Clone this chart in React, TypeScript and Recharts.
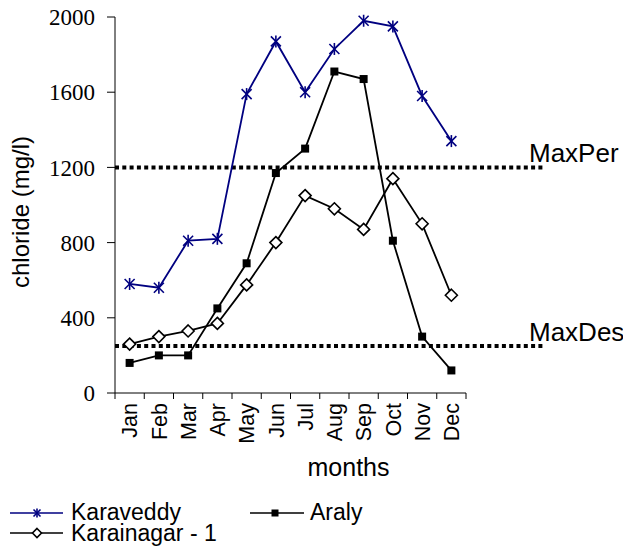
import { LineChart, Line, XAxis, YAxis, ReferenceLine } from 'recharts';

const months = ['Jan', 'Feb', 'Mar', 'Apr', 'May', 'Jun', 'Jul', 'Aug', 'Sep', 'Oct', 'Nov', 'Dec'];
const karaveddy = [580, 560, 810, 820, 1590, 1870, 1600, 1830, 1980, 1950, 1580, 1340];
const araly = [160, 200, 200, 450, 690, 1170, 1300, 1710, 1670, 810, 300, 120];
const karainagar = [260, 300, 330, 370, 575, 800, 1050, 980, 870, 1140, 900, 520];
const yTicks = [0, 400, 800, 1200, 1600, 2000];
const maxPermissible = 1200;
const maxDesirable = 250;

const data = months.map((m, i) => ({
  month: m,
  karaveddy: karaveddy[i],
  araly: araly[i],
  karainagar: karainagar[i],
}));

const NAVY = '#000080';
const SANS = 'Arial, "Liberation Sans", sans-serif';
const SERIF = '"Times New Roman", "Liberation Serif", serif';

const W = 623;
const H = 548;
const PLOT_LEFT = 115;
const PLOT_RIGHT = 466;
const PLOT_TOP = 17;
const PLOT_BOTTOM = 393;
const BAND = (PLOT_RIGHT - PLOT_LEFT) / months.length;

// excel-style: tick marks sit between categories, labels rotated
const MonthTick = (props: any) => {
  const { x, y, payload, index } = props;
  const top = y - 8;
  return (
    <g>
      <line x1={x - BAND / 2} y1={top} x2={x - BAND / 2} y2={top + 6} stroke="#000" />
      {index === months.length - 1 && (
        <line x1={x + BAND / 2} y1={top} x2={x + BAND / 2} y2={top + 6} stroke="#000" />
      )}
      <text
        x={x}
        y={y + 2}
        transform={`rotate(-90 ${x} ${y + 2})`}
        textAnchor="end"
        dy="0.36em"
        fontFamily={SANS}
        fontSize={21.5}
        fill="#000"
      >
        {payload.value}
      </text>
    </g>
  );
};

const Asterisk = ({ cx, cy, r = 5, stroke = NAVY, sw = 1.6 }: any) => (
  <g stroke={stroke} strokeWidth={sw}>
    <line x1={cx - r} y1={cy - r} x2={cx + r} y2={cy + r} />
    <line x1={cx - r} y1={cy + r} x2={cx + r} y2={cy - r} />
    <line x1={cx} y1={cy - r - 1} x2={cx} y2={cy + r + 1} />
  </g>
);

const Square = ({ cx, cy, r = 4 }: any) => (
  <rect x={cx - r} y={cy - r} width={r * 2} height={r * 2} fill="#000" />
);

const Diamond = ({ cx, cy, r = 6 }: any) => (
  <polygon
    points={`${cx},${cy - r} ${cx + r},${cy} ${cx},${cy + r} ${cx - r},${cy}`}
    fill="#fff"
    stroke="#000"
    strokeWidth={1.6}
  />
);

// dotted guideline running past the plot edge, with its name at the far end
const limitShape = (name: string) => (p: any) => (
  <g>
    <line
      x1={p.x1}
      y1={p.y1}
      x2={p.x2 + 77}
      y2={p.y2}
      stroke="#000"
      strokeWidth={4}
      strokeDasharray="4 3.3"
    />
    <text x={p.x2 + 63} y={p.y1 - 5} fontFamily={SANS} fontSize={26} fill="#000">
      {name}
    </text>
  </g>
);

const YTitle = ({ viewBox }: any) => {
  const x = viewBox.x - 35;
  const y = viewBox.y + viewBox.height / 2 + 7;
  return (
    <text
      x={x}
      y={y}
      transform={`rotate(-90 ${x} ${y})`}
      textAnchor="middle"
      dy="0.36em"
      fontFamily={SANS}
      fontSize={24}
      fill="#000"
    >
      chloride (mg/l)
    </text>
  );
};

const XTitle = ({ viewBox }: any) => (
  <text
    x={viewBox.x + viewBox.width / 2 + 58}
    y={476}
    textAnchor="middle"
    fontFamily={SANS}
    fontSize={25}
    fill="#000"
  >
    months
  </text>
);

function ChartLegend() {
  return (
    <svg width={400} height={55} style={{ position: 'absolute', left: 0, top: 495 }}>
      <g fontFamily={SANS} fontSize={23} fill="#000">
        <line x1={10} y1={18} x2={63} y2={18} stroke={NAVY} strokeWidth={1.6} />
        <Asterisk cx={37} cy={18} r={3.5} />
        <text x={71} y={25}>Karaveddy</text>

        <line x1={250} y1={18} x2={304} y2={18} stroke="#000" strokeWidth={1.6} />
        <Square cx={275} cy={18} r={3.5} />
        <text x={310} y={25}>Araly</text>

        <line x1={10} y1={38} x2={63} y2={38} stroke="#000" strokeWidth={1.6} />
        <Diamond cx={37} cy={38} r={4.5} />
        <text x={71} y={46}>Karainagar - 1</text>
      </g>
    </svg>
  );
}

export default function App() {
  return (
    <div style={{ position: 'absolute', left: 0, top: 0, width: W, height: H, background: '#fff' }}>
      <LineChart
        width={W}
        height={H}
        data={data}
        margin={{ top: PLOT_TOP, right: W - PLOT_RIGHT, bottom: H - PLOT_BOTTOM - 60, left: PLOT_LEFT - 60 }}
      >
        <XAxis
          dataKey="month"
          interval={0}
          height={60}
          padding={{ left: BAND / 2, right: BAND / 2 }}
          axisLine={{ stroke: '#000' }}
          tickLine={false}
          tickSize={6}
          tickMargin={2}
          tick={<MonthTick />}
          label={<XTitle />}
        />
        <YAxis
          width={60}
          domain={[0, 2000]}
          ticks={yTicks}
          interval={0}
          axisLine={{ stroke: '#000' }}
          tickLine={{ stroke: '#000' }}
          tickSize={8}
          tickMargin={12}
          tick={{ fontFamily: SERIF, fontSize: 23, fill: '#000' }}
          label={<YTitle />}
        />
        <ReferenceLine y={maxPermissible} shape={limitShape('MaxPer')} />
        <ReferenceLine y={maxDesirable} shape={limitShape('MaxDes')} />
        <Line
          dataKey="karaveddy"
          name="Karaveddy"
          stroke={NAVY}
          strokeWidth={1.8}
          dot={(p: any) => <Asterisk key={`k${p.index}`} cx={p.cx} cy={p.cy} />}
          isAnimationActive={false}
        />
        <Line
          dataKey="araly"
          name="Araly"
          stroke="#000"
          strokeWidth={1.8}
          dot={(p: any) => <Square key={`a${p.index}`} cx={p.cx} cy={p.cy} />}
          isAnimationActive={false}
        />
        <Line
          dataKey="karainagar"
          name="Karainagar - 1"
          stroke="#000"
          strokeWidth={1.8}
          dot={(p: any) => <Diamond key={`n${p.index}`} cx={p.cx} cy={p.cy} />}
          isAnimationActive={false}
        />
      </LineChart>
      <ChartLegend />
    </div>
  );
}
